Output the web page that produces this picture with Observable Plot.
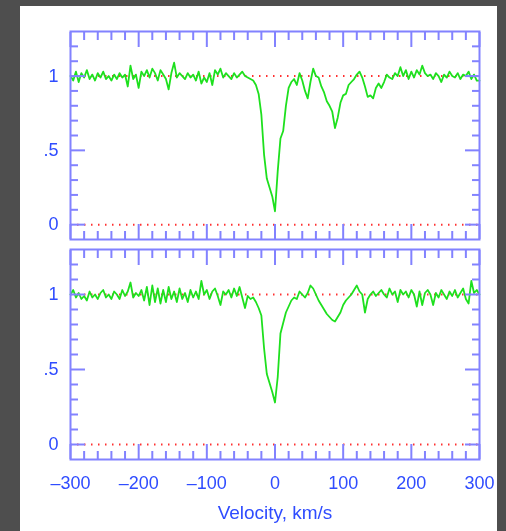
<!DOCTYPE html>
<html><head><meta charset="utf-8">
<script src="https://cdn.jsdelivr.net/npm/d3@7"></script>
<script src="https://cdn.jsdelivr.net/npm/@observablehq/plot@0.6"></script>
<style>
html,body{margin:0;padding:0;background:#4e4e4e;width:506px;height:531px;overflow:hidden;}
#paper{position:absolute;left:20px;top:6px;width:477px;height:525px;background:#fff;}
#top,#bottom{position:absolute;left:0;}
#top{top:0px}
#bottom{top:240px}
#top svg,#bottom svg{filter:blur(0.35px);}
</style></head><body>
<div id="paper"></div><div id="top"></div><div id="bottom"></div>
<script>
const velocity = [
-300,-296,-292,-288,-284,-280,-276,-272,-268,-264,
-260,-256,-252,-248,-244,-240,-236,-232,-228,-224,
-220,-216,-212,-208,-204,-200,-196,-192,-188,-184,
-180,-176,-172,-168,-164,-160,-156,-152,-148,-144,
-140,-136,-132,-128,-124,-120,-116,-112,-108,-104,
-100,-96,-92,-88,-84,-80,-76,-72,-68,-64,
-60,-56,-52,-48,-44,-40,-36,-32,-28,-24,
-20,-16,-12,-8,-4,0,4,8,12,16,
20,24,28,32,36,40,44,48,52,56,
60,64,68,72,76,80,84,88,92,96,
100,104,108,112,116,120,124,128,132,136,
140,144,148,152,156,160,164,168,172,176,
180,184,188,192,196,200,204,208,212,216,
220,224,228,232,236,240,244,248,252,256,
260,264,268,272,276,280,284,288,292,296,
300];
const fluxTop = [
1.00,0.97,1.03,0.96,1.02,0.99,1.04,0.98,1.01,0.97,
1.02,0.99,1.03,0.98,1.00,0.97,1.01,0.98,1.02,0.99,
1.01,0.93,1.07,0.98,1.01,0.92,1.03,1.00,1.04,0.99,
1.05,1.02,0.97,1.04,1.01,0.98,0.91,1.02,1.09,0.99,
1.02,1.00,0.98,1.02,0.99,1.01,0.97,1.03,0.95,0.99,
0.96,1.02,0.94,1.04,1.01,1.05,0.99,1.02,1.00,0.98,
1.02,0.99,1.01,1.03,1.00,0.99,0.98,0.97,0.94,0.88,
0.74,0.47,0.31,0.25,0.19,0.09,0.36,0.58,0.63,0.80,
0.92,0.96,0.98,0.94,1.02,0.97,0.90,0.85,0.96,1.05,
1.00,0.99,0.93,0.89,0.83,0.80,0.76,0.65,0.72,0.82,
0.87,0.88,0.94,0.96,0.98,1.01,1.03,0.99,0.93,0.86,
0.87,0.85,0.92,0.95,0.92,0.96,1.01,0.99,0.98,1.02,
1.00,1.06,1.00,1.04,0.98,1.03,0.99,1.04,1.01,1.07,
1.02,1.00,1.01,0.98,1.02,1.00,0.96,1.01,0.99,1.03,
1.00,0.99,1.02,0.98,1.01,1.00,1.03,0.98,1.01,0.97,
0.97];
const fluxBottom = [
1.00,1.03,0.98,1.01,0.97,0.99,0.96,1.02,0.98,1.00,
0.97,1.01,1.03,0.98,1.00,0.97,1.02,1.00,0.97,1.03,
0.99,1.02,1.08,0.98,1.01,0.99,1.03,0.96,1.05,0.93,
1.06,0.95,1.04,0.94,1.03,0.95,1.05,0.97,1.02,0.95,
1.04,0.97,1.01,0.95,1.03,0.98,1.02,0.97,1.09,1.00,
1.03,0.97,1.02,1.04,0.99,0.93,1.02,1.00,1.03,0.98,
1.04,0.99,1.05,0.98,0.91,0.99,0.97,0.98,0.95,0.91,
0.86,0.64,0.47,0.41,0.35,0.28,0.45,0.74,0.81,0.88,
0.92,0.96,0.98,0.97,1.02,1.00,0.98,1.01,1.06,1.04,
1.00,0.96,0.93,0.90,0.87,0.85,0.83,0.82,0.85,0.88,
0.93,0.96,0.98,1.00,1.03,1.06,1.02,1.00,0.88,0.97,
1.00,1.02,0.99,1.01,1.03,1.00,0.98,1.04,1.00,1.02,
0.95,1.03,1.00,1.02,0.98,1.03,1.00,0.92,1.02,0.93,
1.01,1.03,1.00,0.93,1.01,0.98,1.03,1.00,0.97,1.02,
0.99,1.03,0.98,1.01,1.04,0.97,0.94,1.09,1.01,1.03,
1.00];
const refLevels = [0, 1];
const xMajor = [-300,-200,-100,0,100,200,300];
const xMajorLabels = ["–300","–200","–100","0","100","200","300"];
const xMinor = [-280,-260,-240,-220,-180,-160,-140,-120,-80,-60,-40,-20,20,40,60,80,120,140,160,180,220,240,260,280];
const yMajor = [0, 0.5, 1];
const yMajorLabels = ["0", ".5", "1"];
const yMinor = [0.1,0.2,0.3,0.4,0.6,0.7,0.8,0.9,1.1,1.2];
const xTitle = "Velocity, km/s";

const frameColor = "#8282ff";
const textColor = "#2f4cff";
const xLab = new Map(xMajor.map((d,i)=>[d, xMajorLabels[i]]));
const yLab = new Map(yMajor.map((d,i)=>[d, yMajorLabels[i]]));

function panel(flux, {height, marginTop, marginBottom, showX}) {
  const rows = velocity.map((v,i)=>({v, f: flux[i]}));
  const tick = {fill: "none", stroke: frameColor, strokeWidth: 2, label: null};
  const marks = [
    Plot.ruleY(refLevels, {stroke: "#ff3030", strokeWidth: 2, strokeDasharray: "1.5,5.5"}),
    Plot.line(rows, {x: "v", y: "f", stroke: "#1ee01e", strokeWidth: 1.8}),
    Plot.frame({stroke: frameColor, strokeWidth: 2}),
    Plot.axisX(xMajor, {...tick, anchor: "bottom", tickSize: -15}),
    Plot.axisX(xMajor, {...tick, anchor: "top", tickSize: -15}),
    Plot.axisX(xMinor, {...tick, anchor: "bottom", tickSize: -8}),
    Plot.axisX(xMinor, {...tick, anchor: "top", tickSize: -8}),
    Plot.axisY(yMajor, {...tick, anchor: "left", tickSize: -15}),
    Plot.axisY(yMajor, {...tick, anchor: "right", tickSize: -15}),
    Plot.axisY(yMinor, {...tick, anchor: "left", tickSize: -8}),
    Plot.axisY(yMinor, {...tick, anchor: "right", tickSize: -8}),
    Plot.axisY(yMajor, {anchor: "left", tickSize: 0, tickPadding: 12, tickFormat: d => yLab.get(d), fill: textColor, fontSize: 18, label: null})
  ];
  if (showX) {
    marks.push(Plot.axisX(xMajor, {anchor: "bottom", tickSize: 0, tickPadding: 17, tickFormat: d => xLab.get(d), fill: textColor, fontSize: 18, label: null}));
    marks.push(Plot.text([xTitle], {text: d => d, frameAnchor: "bottom", dy: 53, fill: textColor, fontSize: 19, lineAnchor: "middle"}));
  }
  return Plot.plot({
    width: 506, height, marginLeft: 70, marginRight: 27, marginTop, marginBottom,
    style: {fontFamily: "'Liberation Sans', Arial, sans-serif", background: "transparent", overflow: "visible"},
    x: {domain: [-300, 300]},
    y: {domain: [-0.1, 1.3]},
    marks
  });
}
document.getElementById("top").append(panel(fluxTop, {height: 250, marginTop: 31, marginBottom: 11, showX: false}));
document.getElementById("bottom").append(panel(fluxBottom, {height: 290, marginTop: 9, marginBottom: 71, showX: true}));
</script>
</body></html>
